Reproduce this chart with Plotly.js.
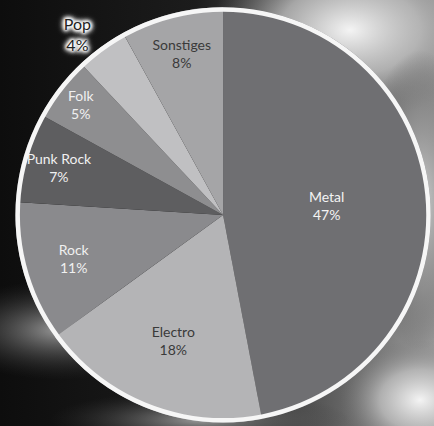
<!DOCTYPE html>
<html>
<head>
<meta charset="utf-8">
<script src="https://cdn.plot.ly/plotly-3.0.1.min.js"></script>
<style>html,body{margin:0;padding:0;background:#1a1a1a;}#chart{width:434px;height:426px;}</style>
</head>
<body>
<div id="chart"></div>
<script>
const genres = ["Metal", "Electro", "Rock", "Punk Rock", "Folk", "Pop", "Sonstiges"];
const shares = [47, 18, 11, 7, 5, 4, 8];
const sliceColors = ["#6f6f72", "#b4b4b6", "#8a8a8d", "#5e5e60", "#8e8e90", "#c0c0c2", "#a5a5a7"];
const labelColors = ["#f4f4f4", "#3a3a3a", "#f0f0f0", "#f0f0f0", "#f0f0f0", "#222222", "#3a3a3a"];
const labelPositions = ["inside", "inside", "inside", "inside", "inside", "outside", "inside"];

const bgSvg = `<svg xmlns='http://www.w3.org/2000/svg' width='434' height='426'>
<defs>
<radialGradient id='g1' cx='0.5' cy='0.5' r='0.5'><stop offset='0' stop-color='#f4f4f4'/><stop offset='0.5' stop-color='#bdbdbd' stop-opacity='0.8'/><stop offset='1' stop-color='#777' stop-opacity='0'/></radialGradient>
<radialGradient id='g2' cx='0.5' cy='0.5' r='0.5'><stop offset='0' stop-color='#d0d0d0'/><stop offset='0.6' stop-color='#888' stop-opacity='0.6'/><stop offset='1' stop-color='#444' stop-opacity='0'/></radialGradient>
<radialGradient id='g3' cx='0.5' cy='0.5' r='0.5'><stop offset='0' stop-color='#9a9a9a'/><stop offset='1' stop-color='#333' stop-opacity='0'/></radialGradient>
<linearGradient id='lg' x1='0' y1='0' x2='1' y2='0'><stop offset='0' stop-color='#0d0d0d'/><stop offset='0.45' stop-color='#1c1c1c'/><stop offset='0.75' stop-color='#5a5a5a'/><stop offset='1' stop-color='#9a9a9a'/></linearGradient>
</defs>
<rect width='434' height='426' fill='url(#lg)'/>
<ellipse cx='350' cy='30' rx='140' ry='90' fill='url(#g1)'/>
<ellipse cx='420' cy='200' rx='60' ry='150' fill='url(#g2)'/>
<ellipse cx='420' cy='400' rx='80' ry='60' fill='url(#g1)'/>
<ellipse cx='60' cy='330' rx='120' ry='50' fill='url(#g3)'/>
<ellipse cx='200' cy='420' rx='150' ry='30' fill='url(#g3)'/>
</svg>`;

const pieDomain = {x: [0.034, 0.994], y: [0.008, 0.983]};
const halo = "0 0 3px #fff, 0 0 3px #fff, 0 0 4px #fff, 0 0 4px #fff, 0 0 5px #fff, 0 0 5px #fff, 0 0 6px #fff, 0 0 6px #fff, 0 0 8px #fff";

const data = [{
  type: "pie",
  labels: genres,
  values: shares,
  sort: false,
  direction: "clockwise",
  rotation: 0,
  marker: {colors: sliceColors, line: {color: "#9a9a9a", width: 0}},
  texttemplate: "%{label}<br>%{value}%",
  textposition: labelPositions,
  insidetextorientation: "horizontal",
  textfont: {family: "Lato, sans-serif", size: 14, color: labelColors},
  outsidetextfont: {family: "Lato, sans-serif", size: 16, color: "#222222", shadow: halo},
  hoverinfo: "none",
  domain: pieDomain
}, {
  type: "pie",
  labels: ["ring"],
  values: [1],
  hole: 0.978,
  marker: {colors: ["#f6f6f6"], line: {width: 0}},
  textinfo: "none",
  hoverinfo: "none",
  showlegend: false,
  domain: pieDomain
}];

const layout = {
  width: 434,
  height: 426,
  margin: {l: 0, r: 0, t: 0, b: 0},
  showlegend: false,
  paper_bgcolor: "#1a1a1a",
  images: [{
    source: "data:image/svg+xml;utf8," + encodeURIComponent(bgSvg),
    xref: "paper", yref: "paper", x: 0, y: 1, sizex: 1, sizey: 1,
    xanchor: "left", yanchor: "top", sizing: "stretch", layer: "below"
  }]
};

Plotly.newPlot("chart", data, layout, {displayModeBar: false, staticPlot: true});
</script>
</body>
</html>
